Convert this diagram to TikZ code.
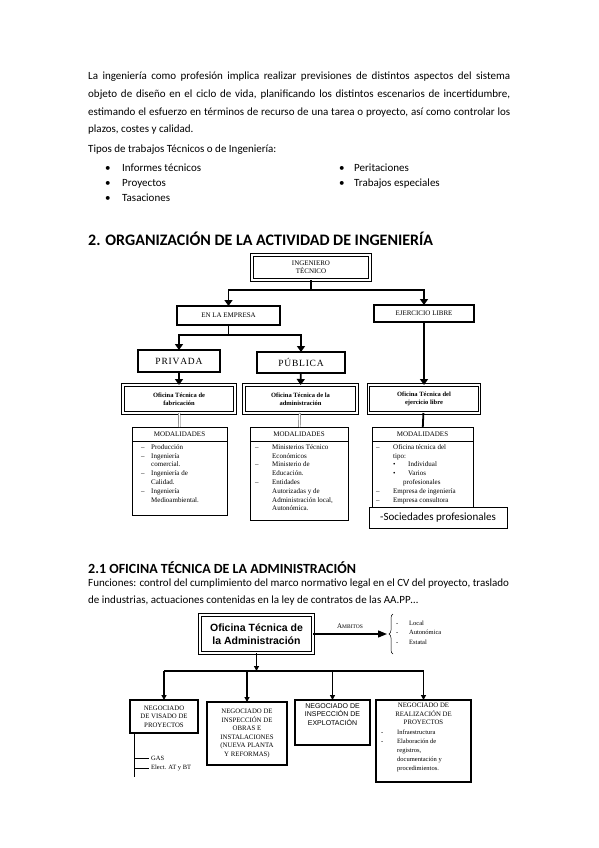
\documentclass[tikz,border=0pt]{standalone}
\usepackage{fontspec}
\setmainfont{Carlito}
\newfontfamily\diagserif{Liberation Serif}
\newfontfamily\diagsans{Liberation Sans}
\usetikzlibrary{arrows.meta, positioning, calc, decorations.pathreplacing}
\tikzset{
    % Page text
    bodytext/.style={
        inner sep=0pt,
        anchor=base west,
        align=left,
        font=\fontsize{11}{17.6}\selectfont
    },
    % Section heading
    heading/.style={
        inner sep=0pt,
        anchor=base west,
        font=\fontsize{16}{19}\selectfont\bfseries
    },
    % Double framed box
    dblbox/.style={
        rectangle,
        draw=black,
        line width=1pt,
        double=white,
        double distance=1.1pt,
        outer sep=0pt,
        align=center,
        font=\diagserif\fontsize{7}{8.4}\selectfont
    },
    % Single framed box
    framebox/.style={
        rectangle,
        draw=black,
        line width=1.1pt,
        fill=white,
        outer sep=0pt,
        align=center,
        font=\diagserif\fontsize{7}{8.4}\selectfont
    },
    % Modalidades box
    modbox/.style={
        rectangle,
        draw=black,
        line width=0.8pt,
        outer sep=0pt,
        inner sep=0pt,
        font=\diagserif\fontsize{7}{8.4}\selectfont
    },
    % List text inside boxes
    listtext/.style={
        inner sep=0pt,
        anchor=north west,
        align=left,
        font=\diagserif\fontsize{7}{8.8}\selectfont
    },
    % Negociado box
    negbox/.style={
        rectangle,
        draw=black,
        line width=1.8pt,
        outer sep=0pt,
        align=center,
        font=\diagserif\fontsize{6.8}{8.6}\selectfont
    },
    % Tree arrow (upper chart)
    treearrow/.style={
        -{Triangle[width=8pt,length=6pt]},
        line width=1.8pt
    },
    treeline/.style={
        line width=1.8pt
    },
    % Tree arrow (lower chart)
    subarrow/.style={
        -{Triangle[width=5pt,length=5pt]},
        line width=1.3pt
    },
    subline/.style={
        line width=1.3pt
    }
}

\begin{document}
\begin{tikzpicture}[x=1pt, y=-1pt]
    \useasboundingbox (0,0) rectangle (599,848);

    % Introduction
    \node (intro) [bodytext, text width=422pt, align=justify] at (88,80) {La ingeniería como profesión implica realizar previsiones de distintos aspectos del sistema\linebreak objeto de diseño en el ciclo de vida, planificando los distintos escenarios de incertidumbre,\linebreak estimando el esfuerzo en términos de recurso de una tarea o proyecto, así como controlar los\linebreak plazos, costes y calidad.};
    \node (tipos) [bodytext] at (88,153) {Tipos de trabajos Técnicos o de Ingeniería:};
    \node (tiposA) [bodytext, anchor=north west] at (105,160.5) {\fontsize{11}{15}\selectfont
        \begin{tabular}{@{}p{17pt}@{}l@{}}
            \textbullet & Informes técnicos\\
            \textbullet & Proyectos\\
            \textbullet & Tasaciones
        \end{tabular}};
    \node (tiposB) [bodytext, anchor=north west] at (339,160.5) {\fontsize{11}{15}\selectfont
        \begin{tabular}{@{}p{15pt}@{}l@{}}
            \textbullet & Peritaciones\\
            \textbullet & Trabajos especiales
        \end{tabular}};

    % 2. Organizacion
    \node (titulo) [heading] at (88,245) {2. ORGANIZACIÓN DE LA ACTIVIDAD DE INGENIERÍA};

    \node (ing) [dblbox, minimum width=118pt, minimum height=25pt] at (311,267.5) {INGENIERO\\TÉCNICO};
    \node (empresa) [framebox, minimum width=103pt, minimum height=19pt] at (228.5,315.5) {EN LA EMPRESA};
    \node (libre) [framebox, minimum width=100pt, minimum height=17pt] at (424,313.5) {EJERCICIO LIBRE};
    \node (privada) [framebox, minimum width=82pt, minimum height=22pt, font=\diagserif\fontsize{9.5}{12}\selectfont] at (179,361) {P\hspace{0.8pt}R\hspace{0.8pt}I\hspace{0.8pt}V\hspace{0.8pt}A\hspace{0.8pt}D\hspace{0.8pt}A};
    \node (publica) [framebox, minimum width=88pt, minimum height=21pt, font=\diagserif\fontsize{9.5}{12}\selectfont] at (301,362.5) {P\hspace{0.8pt}Ú\hspace{0.8pt}B\hspace{0.8pt}L\hspace{0.8pt}I\hspace{0.8pt}C\hspace{0.8pt}A};
    \node (ofFab) [dblbox, minimum width=112pt, minimum height=28pt, font=\diagserif\bfseries\fontsize{6.5}{8.4}\selectfont] at (179,399) {Oficina Técnica de\\fabricación};
    \node (ofAdm) [dblbox, minimum width=113pt, minimum height=28pt, font=\diagserif\bfseries\fontsize{6.5}{8.4}\selectfont] at (300.5,399) {Oficina Técnica de la\\administración};
    \node (ofLib) [dblbox, minimum width=111pt, minimum height=28pt, font=\diagserif\bfseries\fontsize{6.5}{8.4}\selectfont] at (424,399) {Oficina Técnica del\\ejercicio libre};

    \coordinate (j1) at (311,290);
    \coordinate (j2) at (228.5,335);
    \draw [treeline] (ing) -- (j1);
    \draw [treearrow] (j1) -| (empresa);
    \draw [treearrow] (j1) -| (libre);
    \draw [treeline] (empresa) -- (j2);
    \draw [treearrow] (j2) -| (privada);
    \draw [treearrow] (j2) -| (publica);
    \draw [treearrow] (libre) -- (ofLib);
    \draw [treearrow] (privada) -- (ofFab);
    \draw [treearrow] (publica) -- (ofAdm);

    % Modalidades
    \node (mod1) [modbox, minimum width=95pt, minimum height=14pt] at (179.5,434) {MODALIDADES};
    \node (mod2) [modbox, minimum width=98pt, minimum height=14pt] at (299,434) {MODALIDADES};
    \node (mod3) [modbox, minimum width=101pt, minimum height=14pt] at (422.5,434) {MODALIDADES};
    \node (mod1body) [modbox, minimum width=95pt, minimum height=74pt, below=0pt of mod1] {};
    \node (mod2body) [modbox, minimum width=98pt, minimum height=79pt, below=0pt of mod2] {};
    \node (mod3body) [modbox, minimum width=101pt, minimum height=72pt, below=0pt of mod3] {};

    \draw [gray!70!black, double=white, line width=0.5pt, double distance=1.2pt] (ofFab) -- (mod1);
    \draw [gray!70!black, double=white, line width=0.5pt, double distance=1.2pt] (ofAdm) -- (mod2);
    \draw [treeline] (ofLib) -- (mod3);

    \node (list1) [listtext] at (141,443) {%
        \begin{tabular}{@{}p{10pt}@{}l@{}}
            – & Producción\\
            – & Ingeniería\\
              & comercial.\\
            – & Ingeniería de\\
              & Calidad.\\
            – & Ingeniería\\
              & Medioambiental.
        \end{tabular}};
    \node (list2) [listtext] at (255,443) {%
        \begin{tabular}{@{}p{17pt}@{}l@{}}
            – & Ministerios Técnico\\
              & Económicos\\
            – & Ministerio de\\
              & Educación.\\
            – & Entidades\\
              & Autorizadas y de\\
              & Administración local,\\
              & Autonómica.
        \end{tabular}};
    \node (list3) [listtext] at (376,443) {%
        \begin{tabular}{@{}p{17pt}@{}l@{}}
            – & Oficina técnica del\\
              & tipo:\\
              & \makebox[15pt][l]{\textbullet}Individual\\
              & \makebox[15pt][l]{\textbullet}Varios\\
              & \hspace{10pt}profesionales\\
            – & Empresa de ingeniería\\
            – & Empresa consultora
        \end{tabular}};
    \node (socied) [modbox, fill=white, minimum width=138pt, minimum height=21pt, font=\fontsize{11}{13}\selectfont] at (438,517.5) {-Sociedades profesionales};

    % 2.1 Oficina tecnica
    \node (titulo21) [heading, font=\fontsize{14}{17}\selectfont\bfseries] at (88,573) {2.1 OFICINA TÉCNICA DE LA ADMINISTRACIÓN};
    \node (funciones) [bodytext, anchor=north west] at (88,574.8) {\fontsize{11}{16.5}\selectfont
        \begin{tabular}{@{}l@{}}
            Funciones: control del cumplimiento del marco normativo legal en el CV del proyecto, traslado\\
            de industrias, actuaciones contenidas en la ley de contratos de las AA.PP\ldots
        \end{tabular}};

    \node (main) [dblbox, minimum width=113pt, minimum height=38pt, font=\diagsans\bfseries\fontsize{10.5}{13}\selectfont] at (256.5,634) {Oficina Técnica de\\la Administración};

    \coordinate (btip) at (387,634);
    \coordinate (bracetop) at (393,614);
    \coordinate (bracebot) at (393,654);
    \draw [line width=0.5pt, decorate, decoration={brace, amplitude=4pt}] (bracebot) -- (bracetop);
    \draw [-{Triangle[width=7pt,length=9pt]}, line width=1.3pt] (main) -- node[above=1pt, font=\diagserif] {{\fontsize{7}{8}\selectfont A}{\fontsize{5.5}{7}\selectfont MBITOS}} (btip);
    \node (ambitos) [listtext, font=\diagserif\fontsize{6.5}{9.5}\selectfont] at (396,618.5) {%
        \begin{tabular}{@{}p{13pt}@{}l@{}}
            - & Local\\
            - & Autonómica\\
            - & Estatal
        \end{tabular}};

    \node (neg1) [negbox, minimum width=68pt, minimum height=33pt] at (164,716.5) {NEGOCIADO\\DE VISADO DE\\PROYECTOS};
    \node (neg2) [negbox, line width=1.2pt, minimum width=80pt, minimum height=63pt] at (247,733.5) {NEGOCIADO DE\\INSPECCIÓN DE\\OBRAS E\\INSTALACIONES\\(NUEVA PLANTA\\Y REFORMAS)};
    \node (neg3) [negbox, minimum width=75pt, minimum height=45pt] at (332.5,722.5) {};
    \node (neg4) [negbox, minimum width=95pt, minimum height=82pt] at (423.5,741) {};
    \node (neg3text) [below=1pt of neg3.north, align=center, inner sep=2pt, font=\diagsans\fontsize{7}{8.6}\selectfont] {NEGOCIADO DE\\INSPECCIÓN DE\\EXPLOTACIÓN};
    \node (neg4text) [below=1pt of neg4.north, align=center, inner sep=2pt, font=\diagserif\fontsize{6.8}{8.6}\selectfont] {NEGOCIADO DE\\REALIZACIÓN DE\\PROYECTOS};
    \node (neg4list) [listtext, font=\diagserif\fontsize{6.5}{9}\selectfont] at (381,728) {%
        \begin{tabular}{@{}p{16pt}@{}l@{}}
            - & Infraestructura\\
            - & Elaboración de\\
              & registros,\\
              & documentación y\\
              & procedimientos.
        \end{tabular}};

    \coordinate (hub) at (256.5,671);
    \draw [subarrow] (main) -- (hub);
    \draw [subline] (neg1 |- hub) -- (neg4 |- hub);
    \foreach \n in {neg1,neg2,neg3,neg4}
        \draw [subarrow] (\n |- hub) -- (\n);

    % Visado sub items
    \coordinate (gasfoot) at (134,777);
    \node (gas) [anchor=west, inner sep=2pt, font=\diagserif\fontsize{6.5}{8}\selectfont] at (149,758) {GAS};
    \node (elect) [anchor=west, inner sep=2pt, font=\diagserif\fontsize{6.5}{8}\selectfont] at (149,768) {Elect. AT y BT};
    \draw [line width=0.9pt] (neg1.south -| gasfoot) -- (gasfoot);
    \draw [line width=0.9pt] (gas.west -| gasfoot) -- (gas.west);
    \draw [line width=0.9pt] (elect.west -| gasfoot) -- (elect.west);
\end{tikzpicture}
\end{document}
